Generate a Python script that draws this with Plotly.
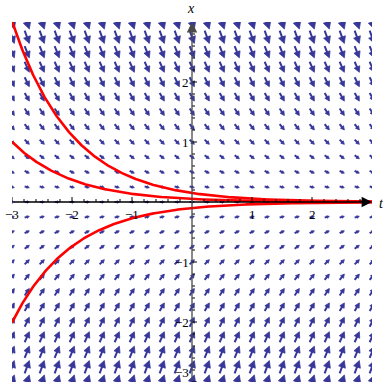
import numpy as np
import plotly.graph_objects as go

# Direction field of dx/dt = -x with three solution curves x(t) = x0 * exp(-t)
T_RANGE = [-3, 3]
X_RANGE = [-3, 3]
FIELD_STEP = 0.25                      # spacing of the arrow grid
x0_values = [0.15, 0.05, -0.1]          # x(0) of each red solution curve
t_tick_vals = [-3, -2, -1, 1, 2]
t_tick_text = ["\u22123", "\u22122", "\u22121", "1", "2"]
x_tick_vals = [-3, -2, -1, 1, 2]
x_tick_text = ["\u22123", "\u22122", "\u22121", "1", "2"]
minor_step = 0.2

ARROW_COLOR = "#37379a"
CURVE_COLOR = "#ff0000"
SERIF = "Liberation Serif, Times New Roman, serif"


def slope(t, x):
    return -x


# ---- arrows of the direction field -------------------------------------
n_t = int(round((T_RANGE[1] - T_RANGE[0]) / FIELD_STEP)) + 1
n_x = int(round((X_RANGE[1] - X_RANGE[0]) / FIELD_STEP)) + 1
grid_t = np.linspace(T_RANGE[0], T_RANGE[1], n_t)
grid_x = np.linspace(X_RANGE[0], X_RANGE[1], n_x)

scale = 0.078          # arrow length per unit of |(1, dx/dt)|
shaft_t, shaft_x, head_t, head_x = [], [], [], []
for t in grid_t:
    for x in grid_x:
        v = np.array([1.0, slope(t, x)])
        mag = np.hypot(*v)
        u = v / mag
        L = scale * mag
        c = np.array([t, x])
        tail = c - u * L / 2
        tip = c + u * L / 2
        hl, hw = 0.5 * L, 0.26 * L
        base = tip - u * hl
        perp = np.array([-u[1], u[0]])
        shaft_end = base + u * 0.2 * hl
        shaft_t += [tail[0], shaft_end[0], None]
        shaft_x += [tail[1], shaft_end[1], None]
        p1 = base + perp * hw
        p2 = base - perp * hw
        head_t += [tip[0], p1[0], p2[0], tip[0], None]
        head_x += [tip[1], p1[1], p2[1], tip[1], None]

fig = go.Figure()
fig.add_trace(go.Scatter(x=shaft_t, y=shaft_x, mode="lines",
                         line=dict(color=ARROW_COLOR, width=2),
                         hoverinfo="skip", showlegend=False))
fig.add_trace(go.Scatter(x=head_t, y=head_x, mode="lines", fill="toself",
                         fillcolor=ARROW_COLOR,
                         line=dict(color=ARROW_COLOR, width=0.8),
                         hoverinfo="skip", showlegend=False))

# ---- solution curves ----------------------------------------------------
ts = np.linspace(T_RANGE[0], T_RANGE[1], 400)
for x0 in x0_values:
    fig.add_trace(go.Scatter(x=ts, y=x0 * np.exp(-ts), mode="lines",
                             line=dict(color=CURVE_COLOR, width=2.6),
                             hoverinfo="skip", showlegend=False))

# ---- axes through the origin --------------------------------------------
annotations = [
    dict(x=T_RANGE[1], y=0, ax=T_RANGE[0], ay=0, xref="x", yref="y",
         axref="x", ayref="y", text="", showarrow=True, arrowhead=2,
         arrowsize=1.6, arrowwidth=1.3, arrowcolor="black", standoff=0),
    dict(x=0, y=X_RANGE[1], ax=0, ay=X_RANGE[0], xref="x", yref="y",
         axref="x", ayref="y", text="", showarrow=True, arrowhead=2,
         arrowsize=1.6, arrowwidth=1.3, arrowcolor="#4a4a4a", standoff=0),
    dict(x=T_RANGE[1], y=0, xref="x", yref="y", text="<i>t</i>",
         showarrow=False, xanchor="left", xshift=5, yshift=-1,
         font=dict(family=SERIF, size=14, color="black")),
    dict(x=0, y=X_RANGE[1], xref="x", yref="y", text="<i>x</i>",
         showarrow=False, yanchor="bottom", yshift=4, xshift=-1,
         font=dict(family=SERIF, size=14, color="black")),
]
for v, s in zip(t_tick_vals, t_tick_text):
    annotations.append(dict(x=v, y=0, xref="x", yref="y", text=s,
                            showarrow=False, yanchor="top", yshift=-3,
                            font=dict(family=SERIF, size=13, color="black")))
for v, s in zip(x_tick_vals, x_tick_text):
    annotations.append(dict(x=0, y=v, xref="x", yref="y", text=s,
                            showarrow=False, xanchor="right", xshift=-1,
                            yanchor="bottom" if v == X_RANGE[0] else "middle",
                            font=dict(family=SERIF, size=13, color="black")))

shapes = []
n_minor = int(round((T_RANGE[1] - T_RANGE[0]) / minor_step))
for k in range(n_minor):
    v = round(T_RANGE[0] + k * minor_step, 6)
    if abs(v) < 1e-9:
        continue
    major = abs(v - round(v)) < 1e-9
    ln = 5 if major else 3
    shapes.append(dict(type="line", xref="x", yref="y", x0=v, x1=v,
                       ysizemode="pixel", yanchor=0, y0=0, y1=ln,
                       line=dict(color="black", width=1)))
n_minor = int(round((X_RANGE[1] - X_RANGE[0]) / minor_step))
for k in range(n_minor + 1):
    v = round(X_RANGE[0] + k * minor_step, 6)
    if abs(v) < 1e-9 or v >= X_RANGE[1] - 1e-9:
        continue
    major = abs(v - round(v)) < 1e-9
    ln = 5 if major else 3
    shapes.append(dict(type="line", xref="x", yref="y", y0=v, y1=v,
                       xsizemode="pixel", xanchor=0, x0=0, x1=ln,
                       line=dict(color="black", width=1)))

fig.update_layout(
    width=383, height=384,
    margin=dict(l=12, r=11, t=22, b=2),
    paper_bgcolor="white", plot_bgcolor="white",
    xaxis=dict(range=T_RANGE, visible=False, fixedrange=True),
    yaxis=dict(range=X_RANGE, visible=False, fixedrange=True),
    annotations=annotations, shapes=shapes,
)

fig.write_html("out.html")
